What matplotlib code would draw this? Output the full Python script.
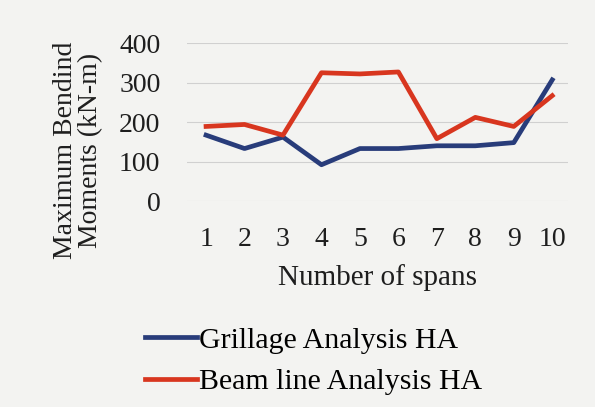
import numpy as np
import matplotlib.pyplot as plt

plt.rcParams['font.family'] = ['Liberation Serif', 'DejaVu Serif']

spans = ['1', '2', '3', '4', '5', '6', '7', '8', '9', '10']
grillage = [167, 133, 162, 92, 133, 133, 140, 140, 148, 307]
beam_line = [189, 194, 167, 325, 322, 327, 158, 212, 189, 267]

BG = '#f3f3f1'
BLUE = '#283c7a'
RED = '#d8361f'
TXT = '#1e1e1e'

fig = plt.figure(figsize=(5.95, 4.07), dpi=100, facecolor=BG)
ax = fig.add_axes([0.314, 0.506, 0.640, 0.388], facecolor=BG)

x = np.arange(len(spans))
l1, = ax.plot(x, grillage, color=BLUE, linewidth=3.4, label='Grillage Analysis HA')
l2, = ax.plot(x, beam_line, color=RED, linewidth=3.4, label='Beam line Analysis HA')

ax.set_ylim(0, 400)
ax.set_yticks([0, 100, 200, 300, 400])
ax.set_xlim(-0.5, 9.4)
ax.set_xticks(x)
ax.set_xticklabels(spans)
ax.grid(axis='y', color='#d0d0d0', linewidth=0.8)
ax.set_axisbelow(True)
for s in ax.spines.values():
    s.set_visible(False)
ax.tick_params(axis='both', length=0, labelsize=20, colors=TXT)
ax.tick_params(axis='x', pad=19)
ax.tick_params(axis='y', pad=19)

# y label sits lower than the plot centre in the original
ax.set_ylabel('Maximum Bendind\nMoments (kN-m)', fontsize=20, color=TXT,
              linespacing=1.0)
ax.yaxis.set_label_coords(-0.22, 0.32)
ax.set_xlabel('Number of spans', fontsize=21, color=TXT, labelpad=8)

fig.legend(handles=[l1, l2], loc='center left', bbox_to_anchor=(0.244, 0.113),
           frameon=False, fontsize=21.5, handlelength=1.75, handletextpad=0.05,
           labelspacing=0.5, borderpad=0, borderaxespad=0)

fig.savefig('out.png', dpi=100, facecolor=BG)
